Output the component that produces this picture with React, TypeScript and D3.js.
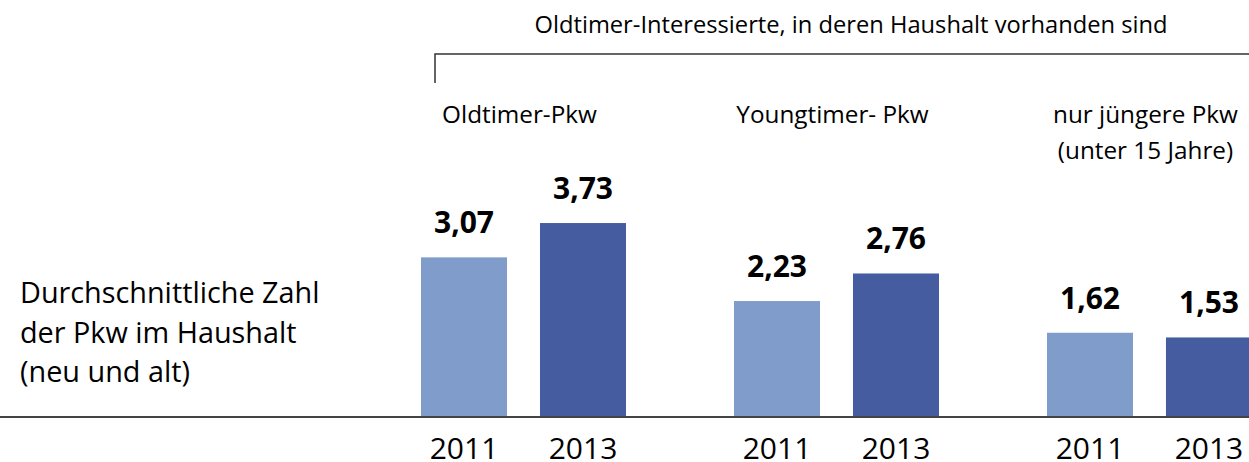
import { useEffect, useRef } from 'react';
import * as d3 from 'd3';

// Werte aus der Grafik
const groups = ['Oldtimer-Pkw', 'Youngtimer- Pkw', 'nur jüngere Pkw'];
const groupLabelLines = [['Oldtimer-Pkw'], ['Youngtimer- Pkw'], ['nur jüngere Pkw', '(unter 15 Jahre)']];
const years = ['2011', '2013'];
const values2011 = [3.07, 2.23, 1.62];
const values2013 = [3.73, 2.76, 1.53];
const title = 'Oldtimer-Interessierte, in deren Haushalt vorhanden sind';
const leftLabel = ['Durchschnittliche Zahl', 'der Pkw im Haushalt', '(neu und alt)'];

export default function App() {
  const chartRef = useRef<HTMLDivElement>(null);

  useEffect(() => {
    document.body.style.margin = '0';
    if (!chartRef.current) return;
    d3.select(chartRef.current).selectAll('*').remove();

    const width = 1249;
    const height = 462;
    const baseY = 417;
    const font = '"Open Sans", sans-serif';

    const svg = d3.select(chartRef.current)
      .append('svg')
      .attr('width', width)
      .attr('height', height)
      .style('display', 'block')
      .style('font-family', font);

    const rows = groups.map((g, i) => ({ group: g, values: [values2011[i], values2013[i]] }));

    // Skalen
    const x0 = d3.scaleBand()
      .domain(groups)
      .range([421, 1252])
      .paddingInner(0.345)
      .paddingOuter(0);

    const x1 = d3.scaleBand()
      .domain(years)
      .range([0, x0.bandwidth()])
      .paddingInner(0.277)
      .paddingOuter(0);

    const y = d3.scaleLinear()
      .domain([0, 4])
      .range([baseY, baseY - 208]);

    const color = d3.scaleOrdinal<string, string>()
      .domain(years)
      .range(['#7f9cca', '#455ca1']);

    const fmt = d3.formatLocale({ decimal: ',', thousands: '.', grouping: [3], currency: ['', '€'] }).format('.2f');

    const g = svg.selectAll('.grp')
      .data(rows)
      .enter()
      .append('g')
      .attr('class', 'grp')
      .attr('transform', d => `translate(${x0(d.group)},0)`);

    // Balken
    g.selectAll('rect')
      .data(d => d.values.map((v, j) => ({ year: years[j], v })))
      .enter()
      .append('rect')
      .attr('x', d => x1(d.year) || 0)
      .attr('y', d => y(d.v))
      .attr('width', x1.bandwidth())
      .attr('height', d => baseY - y(d.v))
      .attr('fill', d => color(d.year));

    // Werte über den Balken
    g.selectAll('.val')
      .data(d => d.values.map((v, j) => ({ year: years[j], v })))
      .enter()
      .append('text')
      .attr('class', 'val')
      .attr('x', d => (x1(d.year) || 0) + x1.bandwidth() / 2)
      .attr('y', d => y(d.v) - 24)
      .attr('text-anchor', 'middle')
      .style('font-size', '30px')
      .style('font-weight', 'bold')
      .text(d => fmt(d.v));

    // Jahre unter der Achse
    g.selectAll('.yr')
      .data(years)
      .enter()
      .append('text')
      .attr('class', 'yr')
      .attr('x', d => (x1(d) || 0) + x1.bandwidth() / 2)
      .attr('y', 459)
      .attr('text-anchor', 'middle')
      .style('font-size', '30px')
      .text(d => d);

    // Gruppenbeschriftung
    groups.forEach((grp, i) => {
      const cx = (x0(grp) || 0) + x0.bandwidth() / 2 - 4;
      const t = svg.append('text')
        .attr('text-anchor', 'middle')
        .style('font-size', '24.3px')
        .attr('x', cx)
        .attr('y', 123);
      groupLabelLines[i].forEach((line, k) => {
        t.append('tspan').attr('x', cx).attr('dy', k === 0 ? 0 : 36).text(line);
      });
    });

    // Nulllinie
    svg.append('line')
      .attr('x1', 0).attr('x2', width)
      .attr('y1', baseY).attr('y2', baseY)
      .attr('stroke', '#444').attr('stroke-width', 2);

    // Klammer und Titel
    svg.append('path')
      .attr('d', `M435,83V54H${width}`)
      .attr('fill', 'none')
      .attr('stroke', '#333')
      .attr('stroke-width', 1.5);

    svg.append('text')
      .attr('x', 851)
      .attr('y', 33)
      .attr('text-anchor', 'middle')
      .style('font-size', '23.7px')
      .text(title);

    // Linke Beschriftung
    const lt = svg.append('text')
      .attr('x', 20)
      .attr('y', 303)
      .style('font-size', '28.8px');
    leftLabel.forEach((line, k) => {
      lt.append('tspan').attr('x', 20).attr('dy', k === 0 ? 0 : 39.5).text(line);
    });
  }, []);

  return <div ref={chartRef}></div>;
}
